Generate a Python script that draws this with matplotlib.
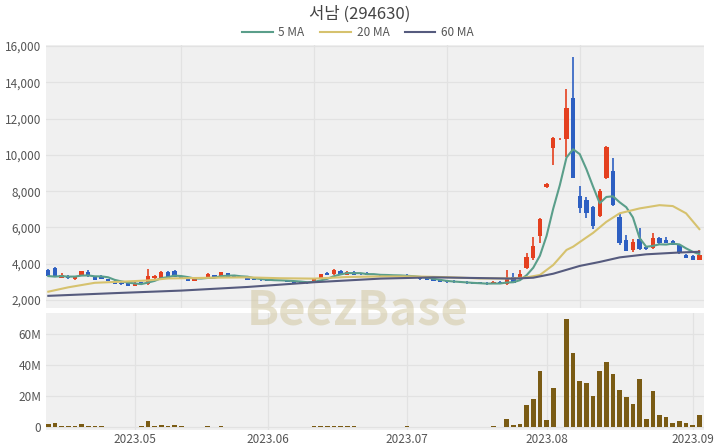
import matplotlib
matplotlib.use('Agg')
import matplotlib.pyplot as plt
import numpy as np
import pandas as pd

plt.rcParams['font.family'] = ['Noto Sans CJK KR', 'DejaVu Sans']

# trading days (KRX holidays removed)
dates = pd.bdate_range('2023-04-12', '2023-09-04')
holidays = pd.to_datetime(['2023-05-01', '2023-05-05', '2023-05-29', '2023-06-06', '2023-08-15'])
dates = dates[~dates.isin(holidays)]

opens = [3650, 3750, 3230, 3350, 3150, 3350, 3550, 3250, 3300, 3150,
         3050, 2950, 2950, 2800, 2980, 2880, 3210, 3230, 3520, 3600,
         3290, 3190, 3050, 3250, 3270, 3380, 3340, 3470, 3320, 3280,
         3220, 3150, 3120, 3100, 3060, 3110, 3080, 3020, 3000, 2960,
         2940, 3230, 3480, 3420, 3620, 3380, 3560, 3440, 3480, 3430,
         3400, 3360, 3340, 3300, 3400, 3320, 3230, 3200, 3140, 3100,
         3060, 3060, 3010, 3010, 2970, 2970, 2950, 2880, 3010, 2870,
         3270, 3160, 3750, 4310, 5530, 8250, 10360, 10850, 10900, 13150,
         7730, 7500, 7140, 6630, 8700, 9100, 6600, 5300, 4760, 5340,
         4950, 4850, 5400, 5300, 5250, 5030, 4500, 4440, 4220]
highs = [3720, 3840, 3500, 3400, 3330, 3620, 3680, 3300, 3380, 3180,
         3080, 3000, 2980, 2970, 3000, 3720, 3380, 3600, 3600, 3680,
         3320, 3210, 3220, 3280, 3470, 3400, 3540, 3500, 3350, 3300,
         3240, 3170, 3140, 3120, 3130, 3130, 3100, 3040, 3020, 2980,
         3200, 3440, 3520, 3700, 3680, 3580, 3590, 3460, 3560, 3450,
         3420, 3380, 3360, 3360, 3450, 3340, 3250, 3220, 3160, 3120,
         3080, 3080, 3030, 3030, 2990, 2990, 2970, 3030, 3030, 3650,
         3490, 3650, 4570, 5490, 6500, 8450, 11000, 10920, 13610, 15400,
         8270, 7700, 7200, 8100, 10500, 9810, 6800, 5580, 5340, 5980,
         5000, 5700, 5500, 5500, 5300, 5080, 4540, 4470, 4760]
lows = [3300, 3250, 3200, 3180, 3120, 3330, 3280, 3100, 3150, 3030,
        2860, 2850, 2780, 2780, 2860, 2830, 3180, 3200, 3200, 3260,
        3170, 3030, 3030, 3180, 3250, 3210, 3320, 3270, 3250, 3210,
        3100, 3080, 3060, 3040, 3040, 3050, 3000, 2940, 2910, 2900,
        2920, 3210, 3380, 3400, 3390, 3360, 3360, 3390, 3360, 3380,
        3350, 3330, 3310, 3280, 3280, 3240, 3120, 3080, 3030, 2990,
        2950, 2950, 2960, 2900, 2860, 2860, 2840, 2860, 2900, 2830,
        2940, 3140, 3700, 4200, 5140, 8150, 9440, 10840, 9900, 8740,
        6800, 6500, 5900, 6600, 8650, 7200, 5050, 4700, 4620, 4780,
        4780, 4830, 5050, 5120, 5030, 4550, 4300, 4200, 4200]
closes = [3320, 3260, 3380, 3200, 3300, 3600, 3300, 3130, 3180, 3060,
          2880, 2880, 2800, 2950, 2880, 3300, 3340, 3560, 3230, 3290,
          3190, 3050, 3190, 3200, 3450, 3230, 3520, 3290, 3270, 3230,
          3120, 3100, 3080, 3060, 3110, 3070, 3020, 2960, 2930, 2920,
          3180, 3420, 3400, 3650, 3410, 3560, 3380, 3410, 3380, 3400,
          3370, 3340, 3330, 3340, 3300, 3260, 3140, 3100, 3050, 3010,
          2970, 2970, 2980, 2920, 2880, 2880, 2860, 3010, 2920, 3150,
          2960, 3430, 4390, 4980, 6460, 8400, 10940, 10900, 12580, 8740,
          7050, 6800, 6090, 8020, 10450, 7230, 5160, 4720, 5210, 4790,
          4800, 5400, 5150, 5150, 5050, 4570, 4320, 4220, 4480]
# volume in millions of shares
volumes = [2.2, 2.6, 0.4, 0.4, 0.5, 1.7, 0.6, 0.3, 0.3, 0.2,
           0.2, 0.2, 0.2, 0.2, 0.3, 3.9, 0.5, 1.5, 0.4, 1.5,
           0.3, 0.2, 0.2, 0.2, 0.3, 0.2, 0.3, 0.2, 0.2, 0.1,
           0.1, 0.1, 0.1, 0.1, 0.2, 0.1, 0.1, 0.1, 0.1, 0.1,
           0.4, 0.5, 0.3, 0.5, 0.4, 0.3, 0.3, 0.2, 0.2, 0.2,
           0.1, 0.1, 0.1, 0.1, 0.4, 0.2, 0.1, 0.1, 0.1, 0.1,
           0.1, 0.1, 0.1, 0.1, 0.1, 0.2, 0.1, 0.3, 0.2, 4.8,
           1.1, 2.2, 14.2, 18.1, 36.0, 4.3, 25.3, 0.0, 69.5, 47.5,
           29.6, 28.7, 19.9, 36.0, 41.7, 34.3, 24.2, 19.4, 15.1, 30.7,
           5.4, 23.3, 7.4, 6.5, 2.6, 3.9, 2.6, 1.5, 7.4]

# moving averages (index, value)
ma20_idx = [0, 3, 7, 11, 15, 18, 25, 30, 35, 40, 45, 50, 55, 60, 65, 70, 72, 74, 76, 78, 79, 81, 82, 84, 86, 89, 92, 94, 96, 98]
ma20_val = [2460, 2700, 2950, 3010, 3080, 3190, 3230, 3250, 3200, 3180, 3270, 3300, 3300, 3260, 3190, 3190, 3250, 3380, 3930, 4760, 4940, 5450, 5700, 6310, 6780, 7050, 7230, 7180, 6780, 5910]
ma60_idx = [0, 10, 20, 30, 40, 50, 58, 65, 70, 73, 76, 80, 83, 86, 90, 95, 98]
ma60_val = [2230, 2380, 2520, 2720, 2980, 3180, 3250, 3210, 3180, 3230, 3450, 3880, 4100, 4350, 4520, 4620, 4660]

x = np.arange(len(dates))
ma5 = pd.Series(closes).rolling(5, min_periods=1).mean()

red = '#e4401f'
blue = '#2d5fc2'
colors = [red if c >= o else blue for o, c in zip(opens, closes)]

fig = plt.figure(figsize=(7.2, 4.48), dpi=100)
ax1 = fig.add_axes([46/720, 1-308/448, 658/720, 263/448])
ax2 = fig.add_axes([46/720, 1-430/448, 658/720, 117/448])

for ax in (ax1, ax2):
    ax.set_facecolor('#f0f0f0')
    for s in ax.spines.values():
        s.set_visible(False)
    ax.tick_params(length=0, labelsize=8.5, labelcolor='#555555')
    ax.set_xlim(-0.35, 98.7)

# candles
ax1.vlines(x, lows, highs, colors=colors, linewidth=1.2, zorder=3)
body = np.array(closes) - np.array(opens)
ax1.bar(x, body, bottom=opens, width=0.65, color=colors, zorder=3)

ax1.plot(x, ma5, color='#5a9e8a', lw=1.5, zorder=4, label='5 MA')
ax1.plot(ma20_idx, ma20_val, color='#d6c26e', lw=1.5, zorder=4, label='20 MA')
ax1.plot(ma60_idx, ma60_val, color='#565b7e', lw=1.5, zorder=4, label='60 MA')

ax1.set_ylim(1560, 16060)
yt = [2000, 4000, 6000, 8000, 10000, 12000, 14000, 16000]
ax1.set_yticks(yt)
ax1.set_yticklabels([f'{v:,}' for v in yt])
ax1.set_xticks([20, 40, 60, 80])
ax1.set_xticklabels([])
ax1.grid(True, color='#e2e2e2', lw=0.9, zorder=0)
ax1.set_axisbelow(True)

# volume
ax2.bar(x, volumes, width=0.7, color='#7a5b14', zorder=3)
ax2.set_ylim(-2, 73.7)
ax2.set_yticks([0, 20, 40, 60])
ax2.set_yticklabels(['0', '20M', '40M', '60M'])
month_idx = [i for i in range(1, len(dates)) if dates[i].month != dates[i-1].month]
ax2.set_xticks(month_idx)
ax2.set_xticklabels([dates[i].strftime('%Y.%m') for i in month_idx])
ax2.tick_params(axis='x', pad=2)
ax2.grid(True, color='#e2e2e2', lw=0.9, zorder=0)
ax2.set_axisbelow(True)

fig.text(0.5, 0.969, '서남 (294630)', ha='center', va='center', fontsize=12, color='#444444')
fig.legend(loc='center', bbox_to_anchor=(0.497, 0.928), ncol=3, frameon=False,
           fontsize=8.5, labelcolor='#555555', handlelength=2.6, columnspacing=1.3, handletextpad=0.5)

fig.text(0.497, 0.308, 'BeezBase', ha='center', va='center', fontsize=34, fontweight='bold',
         color='#cfc49a', alpha=0.5, zorder=0)

fig.savefig('out.png', dpi=100)
